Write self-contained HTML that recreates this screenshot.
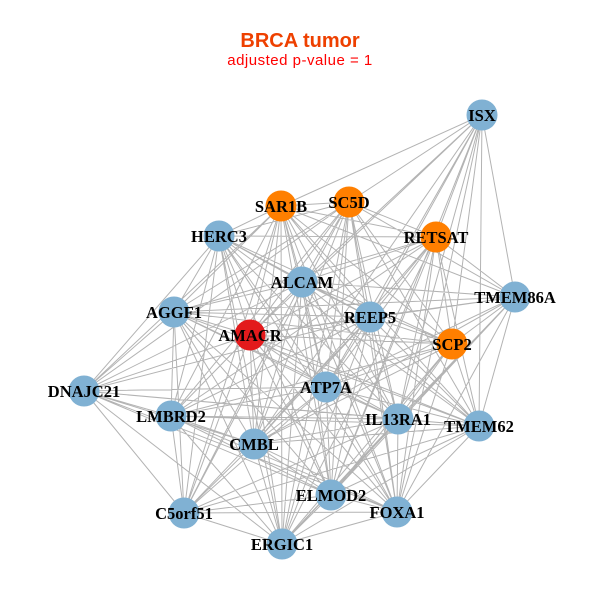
<!DOCTYPE html>
<html><head><meta charset="utf-8"><style>
html,body{margin:0;padding:0;background:#fff;}
svg{display:block;}
.n{font-family:"Liberation Serif",serif;font-weight:bold;font-size:16.5px;fill:#000;text-anchor:middle;}
</style></head><body>
<svg width="600" height="600" viewBox="0 0 600 600" xmlns="http://www.w3.org/2000/svg">
<rect width="600" height="600" fill="#fff"/>
<text x="300" y="47" text-anchor="middle" style="font-family:'Liberation Sans',sans-serif;font-weight:bold;font-size:20px" fill="#ee4000">BRCA tumor</text>
<text x="300" y="65" text-anchor="middle" style="font-family:'Liberation Sans',sans-serif;font-size:15px;letter-spacing:0.5px" fill="#ff0000">adjusted p-value = 1</text>
<path fill="none" stroke="#b3b3b3" stroke-width="1" d="
M482 115L349 202M482 115L281 206M482 115L436 237M482 115L302 282M482 115L515 297M482 115L370 317M482 115L250 335M482 115L452 344M482 115L326 387M482 115L398 419M482 115L479 426M482 115L254 444M482 115L331 495M482 115L397 512
M349 202L281 206M349 202L436 237M349 202L219 236M349 202L302 282M349 202L515 297M349 202L174 312M349 202L370 317M349 202L250 335M349 202L452 344M349 202L84 391M349 202L326 387M349 202L171 416M349 202L398 419M349 202L479 426M349 202L254 444M349 202L331 495M349 202L184 513M349 202L397 512M349 202L282 544
M281 206L436 237M281 206L219 236M281 206L302 282M281 206L515 297M281 206L174 312M281 206L370 317M281 206L250 335M281 206L452 344M281 206L84 391M281 206L326 387M281 206L171 416M281 206L398 419M281 206L479 426M281 206L254 444M281 206L331 495M281 206L184 513M281 206L397 512M281 206L282 544
M436 237L219 236M436 237L302 282M436 237L515 297M436 237L174 312M436 237L370 317M436 237L250 335M436 237L452 344M436 237L326 387M436 237L171 416M436 237L398 419M436 237L479 426M436 237L254 444M436 237L331 495M436 237L397 512M436 237L282 544
M219 236L302 282M219 236L174 312M219 236L370 317M219 236L250 335M219 236L452 344M219 236L84 391M219 236L326 387M219 236L171 416M219 236L398 419M219 236L479 426M219 236L254 444M219 236L331 495M219 236L184 513M219 236L397 512M219 236L282 544
M302 282L515 297M302 282L174 312M302 282L370 317M302 282L250 335M302 282L452 344M302 282L84 391M302 282L326 387M302 282L171 416M302 282L398 419M302 282L479 426M302 282L254 444M302 282L331 495M302 282L184 513M302 282L397 512M302 282L282 544
M515 297L174 312M515 297L370 317M515 297L250 335M515 297L452 344M515 297L326 387M515 297L398 419M515 297L479 426M515 297L254 444M515 297L331 495M515 297L397 512M515 297L282 544
M174 312L370 317M174 312L250 335M174 312L452 344M174 312L84 391M174 312L326 387M174 312L171 416M174 312L398 419M174 312L479 426M174 312L254 444M174 312L331 495M174 312L184 513M174 312L397 512M174 312L282 544
M370 317L250 335M370 317L452 344M370 317L84 391M370 317L326 387M370 317L171 416M370 317L398 419M370 317L479 426M370 317L254 444M370 317L331 495M370 317L184 513M370 317L397 512M370 317L282 544
M250 335L452 344M250 335L84 391M250 335L326 387M250 335L171 416M250 335L398 419M250 335L479 426M250 335L254 444M250 335L331 495M250 335L184 513M250 335L397 512M250 335L282 544
M452 344L326 387M452 344L171 416M452 344L398 419M452 344L479 426M452 344L254 444M452 344L331 495M452 344L397 512M452 344L282 544
M84 391L326 387M84 391L171 416M84 391L398 419M84 391L479 426M84 391L254 444M84 391L331 495M84 391L184 513M84 391L397 512M84 391L282 544
M326 387L171 416M326 387L398 419M326 387L479 426M326 387L254 444M326 387L331 495M326 387L184 513M326 387L397 512M326 387L282 544
M171 416L398 419M171 416L479 426M171 416L254 444M171 416L331 495M171 416L184 513M171 416L397 512M171 416L282 544
M398 419L479 426M398 419L254 444M398 419L331 495M398 419L184 513M398 419L397 512M398 419L282 544
M479 426L254 444M479 426L331 495M479 426L184 513M479 426L397 512M479 426L282 544
M254 444L331 495M254 444L184 513M254 444L397 512M254 444L282 544
M331 495L184 513M331 495L397 512M331 495L282 544
M184 513L397 512M184 513L282 544
M397 512L282 544"/>
<g>
<circle cx="482" cy="115" r="15.5" fill="#80b1d3"/>
<circle cx="349" cy="202" r="15.5" fill="#ff7f00"/>
<circle cx="281" cy="206" r="15.5" fill="#ff7f00"/>
<circle cx="436" cy="237" r="15.5" fill="#ff7f00"/>
<circle cx="219" cy="236" r="15.5" fill="#80b1d3"/>
<circle cx="302" cy="282" r="15.5" fill="#80b1d3"/>
<circle cx="515" cy="297" r="15.5" fill="#80b1d3"/>
<circle cx="174" cy="312" r="15.5" fill="#80b1d3"/>
<circle cx="370" cy="317" r="15.5" fill="#80b1d3"/>
<circle cx="250" cy="335" r="15.5" fill="#e31a1c"/>
<circle cx="452" cy="344" r="15.5" fill="#ff7f00"/>
<circle cx="84" cy="391" r="15.5" fill="#80b1d3"/>
<circle cx="326" cy="387" r="15.5" fill="#80b1d3"/>
<circle cx="171" cy="416" r="15.5" fill="#80b1d3"/>
<circle cx="398" cy="419" r="15.5" fill="#80b1d3"/>
<circle cx="479" cy="426" r="15.5" fill="#80b1d3"/>
<circle cx="254" cy="444" r="15.5" fill="#80b1d3"/>
<circle cx="331" cy="495" r="15.5" fill="#80b1d3"/>
<circle cx="184" cy="513" r="15.5" fill="#80b1d3"/>
<circle cx="397" cy="512" r="15.5" fill="#80b1d3"/>
<circle cx="282" cy="544" r="15.5" fill="#80b1d3"/>
</g>
<g>
<text class="n" x="482" y="121">ISX</text>
<text class="n" x="349" y="208">SC5D</text>
<text class="n" x="281" y="212">SAR1B</text>
<text class="n" x="436" y="243">RETSAT</text>
<text class="n" x="219" y="242">HERC3</text>
<text class="n" x="302" y="288">ALCAM</text>
<text class="n" x="515" y="303">TMEM86A</text>
<text class="n" x="174" y="318">AGGF1</text>
<text class="n" x="370" y="323">REEP5</text>
<text class="n" x="250" y="341">AMACR</text>
<text class="n" x="452" y="350">SCP2</text>
<text class="n" x="84" y="397">DNAJC21</text>
<text class="n" x="326" y="393">ATP7A</text>
<text class="n" x="171" y="422">LMBRD2</text>
<text class="n" x="398" y="425">IL13RA1</text>
<text class="n" x="479" y="432">TMEM62</text>
<text class="n" x="254" y="450">CMBL</text>
<text class="n" x="331" y="501">ELMOD2</text>
<text class="n" x="184" y="519">C5orf51</text>
<text class="n" x="397" y="518">FOXA1</text>
<text class="n" x="282" y="550">ERGIC1</text>
</g>
</svg>
</body></html>
